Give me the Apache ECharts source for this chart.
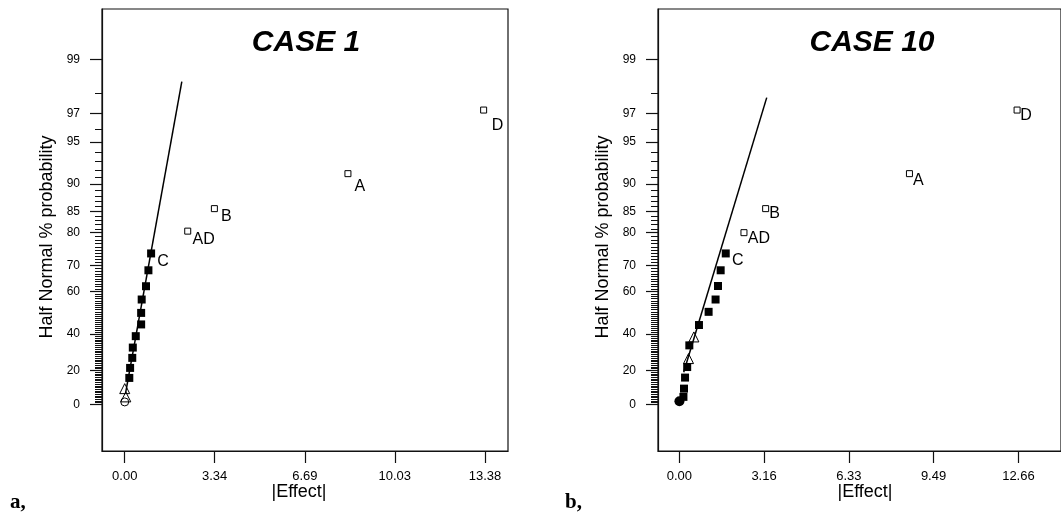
<!DOCTYPE html>
<html>
<head>
<meta charset="utf-8">
<script src="https://cdn.jsdelivr.net/npm/echarts@6.0.0/dist/echarts.min.js"></script>
<style>
  html, body { margin: 0; padding: 0; background: #fff; }
  #chart { width: 1061px; height: 520px; }
</style>
</head>
<body>
<div id="chart"></div>
<script>
// Half-normal probability tick marks (percent)
const probMajorTicks = [0, 20, 40, 60, 70, 80, 85, 90, 95, 97, 99];
const probMinorTicks = Array.from({ length: 99 }, (_, i) => i);

// ---------- CASE 1 ----------
const case1TickLabels = ['0.00', '3.34', '6.69', '10.03', '13.38'];
const case1FilledNames = ['C'];
const case1FilledX = [0.98, 0.88, 0.79, 0.63, 0.61, 0.61, 0.41, 0.30, 0.28, 0.20, 0.17];
const case1FilledP = [74.0, 68.3, 62.2, 56.6, 50.5, 44.9, 38.9, 32.8, 27.1, 21.4, 15.6];
const case1TriangleX = [0.00, 0.04];
const case1TriangleP = [9.3, 4.4];
const case1CircleX = [0.00];
const case1CircleP = [1.4];
const case1NamedLabels = ['D', 'A', 'B', 'AD'];
const case1NamedX = [13.33, 8.29, 3.33, 2.34];
const case1NamedP = [97.2, 91.5, 85.6, 80.4];
const case1LineX = [0.03, 2.12];
const case1LineP = [6.5, 98.4];

// ---------- CASE 10 ----------
const case10TickLabels = ['0.00', '3.16', '6.33', '9.49', '12.66'];
const case10FilledNames = ['C'];
const case10FilledX = [1.73, 1.54, 1.44, 1.35, 1.09, 0.73, 0.37, 0.29, 0.21, 0.17, 0.15];
const case10FilledP = [74.0, 68.3, 62.3, 56.6, 51.0, 44.6, 34.0, 21.9, 15.8, 9.3, 4.4];
const case10TriangleX = [0.54, 0.34];
const case10TriangleP = [38.5, 26.7];
const case10CircleX = [0.00];
const case10CircleP = [1.8];
const case10NamedLabels = ['D', 'A', 'B', 'AD'];
const case10NamedX = [12.61, 8.59, 3.22, 2.41];
const case10NamedP = [97.2, 91.5, 85.6, 80.0];
const case10LineX = [0.16, 3.26];
const case10LineP = [18.9, 97.8];

// Inverse standard normal CDF (Acklam's rational approximation)
function probit(p) {
  const a = [-3.969683028665376e+01, 2.209460984245205e+02, -2.759285104469687e+02, 1.383577518672690e+02, -3.066479806614716e+01, 2.506628277459239e+00];
  const b = [-5.447609879822406e+01, 1.615858368580409e+02, -1.556989798598866e+02, 6.680131188771972e+01, -1.328068155288572e+01];
  const c = [-7.784894002430293e-03, -3.223964580411365e-01, -2.400758276161838e+00, -2.549671010624360e+00, 4.374664141464968e+00, 2.938163982698783e+00];
  const d = [7.784695709041462e-03, 3.224671290700398e-01, 2.445134137142996e+00, 3.754408661907416e+00];
  const pl = 0.02425, ph = 1 - pl;
  let q, r;
  if (p < pl) {
    q = Math.sqrt(-2 * Math.log(p));
    return (((((c[0] * q + c[1]) * q + c[2]) * q + c[3]) * q + c[4]) * q + c[5]) / ((((d[0] * q + d[1]) * q + d[2]) * q + d[3]) * q + 1);
  }
  if (p <= ph) {
    q = p - 0.5; r = q * q;
    return (((((a[0] * r + a[1]) * r + a[2]) * r + a[3]) * r + a[4]) * r + a[5]) * q / (((((b[0] * r + b[1]) * r + b[2]) * r + b[3]) * r + b[4]) * r + 1);
  }
  q = Math.sqrt(-2 * Math.log(1 - p));
  return -(((((c[0] * q + c[1]) * q + c[2]) * q + c[3]) * q + c[4]) * q + c[5]) / ((((d[0] * q + d[1]) * q + d[2]) * q + d[3]) * q + 1);
}
// Half-normal probability scale: percent -> normal score
const hn = pct => probit(0.5 + pct / 200);

const FONT = '"Liberation Sans", Arial, Helvetica, sans-serif';
const INK = '#000';
const majorZ = probMajorTicks.map(hn);
const minorZ = probMinorTicks.map(hn);
const Z_MIN = -0.349, Z_MAX = 2.952;

const pairs = (xs, ps) => xs.map((x, i) => [x, hn(ps[i])]);

function buildPanel(g, opts) {
  const grid = {
    left: opts.left, top: 9, width: opts.width, height: 442,
    show: true, borderColor: '#111', borderWidth: 1.2, backgroundColor: 'transparent'
  };
  const xTicks = opts.tickLabels.map(parseFloat);
  const xAxis = {
    type: 'value', gridIndex: g, min: opts.xMin, max: opts.xMax,
    axisLine: { show: true, onZero: false, lineStyle: { color: '#111', width: 1.2 } },
    axisTick: { show: true, inside: false, length: 12, customValues: xTicks, lineStyle: { color: '#111', width: 1.2 } },
    axisLabel: {
      show: true, margin: 19, customValues: xTicks, color: INK, fontSize: 13, fontFamily: FONT,
      formatter: v => opts.tickLabels[xTicks.findIndex(t => Math.abs(t - v) < 1e-9)]
    },
    splitLine: { show: false }
  };
  const yMajor = {
    type: 'value', gridIndex: g, min: Z_MIN, max: Z_MAX, position: 'left', offset: 0,
    axisLine: { show: true, onZero: false, lineStyle: { color: '#111', width: 1.2 } },
    axisTick: { show: true, inside: false, length: 12, customValues: majorZ, lineStyle: { color: '#111', width: 1.2 } },
    axisLabel: {
      show: true, margin: 22, customValues: majorZ, color: INK, fontSize: 12, fontFamily: FONT,
      formatter: v => String(probMajorTicks[majorZ.findIndex(t => Math.abs(t - v) < 1e-9)])
    },
    splitLine: { show: false }
  };
  const yMinor = {
    type: 'value', gridIndex: g, min: Z_MIN, max: Z_MAX, position: 'left', offset: 0,
    axisLine: { show: false, onZero: false },
    axisTick: { show: true, inside: false, length: 7, customValues: minorZ, lineStyle: { color: '#111', width: 1 } },
    axisLabel: { show: false },
    splitLine: { show: false }
  };

  const labelStyle = off => ({
    show: true, position: 'inside', offset: off, align: 'center', verticalAlign: 'middle',
    color: INK, fontSize: 16, fontFamily: FONT, opacity: 1
  });

  const filledData = pairs(opts.filledX, opts.filledP).map((v, i) => {
    const item = { value: v };
    if (opts.filledNames[i]) {
      item.name = opts.filledNames[i];
      item.label = Object.assign(labelStyle(opts.labelOffsets[item.name]), { formatter: '{b}' });
    }
    return item;
  });
  const namedData = pairs(opts.namedX, opts.namedP).map((v, i) => ({
    value: v, name: opts.namedLabels[i],
    label: Object.assign(labelStyle(opts.labelOffsets[opts.namedLabels[i]]), { formatter: '{b}' })
  }));

  const series = [
    {
      type: 'line', xAxisIndex: g, yAxisIndex: g * 2, data: pairs(opts.lineX, opts.lineP),
      symbol: 'none', lineStyle: { color: INK, width: 1.5, opacity: 1 }, z: 2, silent: true
    },
    {
      type: 'scatter', xAxisIndex: g, yAxisIndex: g * 2, data: filledData,
      symbol: 'rect', symbolSize: 8, itemStyle: { color: INK, opacity: 1 }, z: 3
    },
    {
      type: 'scatter', xAxisIndex: g, yAxisIndex: g * 2, data: pairs(opts.triX, opts.triP),
      symbol: 'triangle', symbolSize: [10, 10],
      itemStyle: { color: 'transparent', borderColor: INK, borderWidth: 1, opacity: 1 }, z: 3
    },
    {
      type: 'scatter', xAxisIndex: g, yAxisIndex: g * 2, data: pairs(opts.circX, opts.circP),
      symbol: 'circle', symbolSize: opts.circleFilled ? 10 : 8,
      itemStyle: opts.circleFilled
        ? { color: INK, opacity: 1 }
        : { color: 'transparent', borderColor: INK, borderWidth: 1, opacity: 1 }, z: 3
    },
    {
      type: 'scatter', xAxisIndex: g, yAxisIndex: g * 2, data: namedData,
      symbol: 'rect', symbolSize: 6,
      itemStyle: { color: '#fff', borderColor: INK, borderWidth: 1, opacity: 1 }, z: 3
    }
  ];
  return { grid, xAxis, yAxes: [yMajor, yMinor], series };
}

const p1 = buildPanel(0, {
  left: 102, width: 406, xMin: -0.844, xMax: 14.235,
  tickLabels: case1TickLabels,
  filledNames: case1FilledNames, filledX: case1FilledX, filledP: case1FilledP,
  triX: case1TriangleX, triP: case1TriangleP,
  circX: case1CircleX, circP: case1CircleP, circleFilled: false,
  namedLabels: case1NamedLabels, namedX: case1NamedX, namedP: case1NamedP,
  lineX: case1LineX, lineP: case1LineP,
  labelOffsets: { D: [14, 16], A: [12, 13], B: [12, 8], AD: [16, 8], C: [12, 8] }
});
const p2 = buildPanel(1, {
  left: 658, width: 427, xMin: -0.80, xMax: 14.25,
  tickLabels: case10TickLabels,
  filledNames: case10FilledNames, filledX: case10FilledX, filledP: case10FilledP,
  triX: case10TriangleX, triP: case10TriangleP,
  circX: case10CircleX, circP: case10CircleP, circleFilled: true,
  namedLabels: case10NamedLabels, namedX: case10NamedX, namedP: case10NamedP,
  lineX: case10LineX, lineP: case10LineP,
  labelOffsets: { D: [9, 6], A: [9, 7], B: [9, 5], AD: [15, 6], C: [12, 7] }
});

const textEl = (x, y, text, font, align) => ({
  type: 'text', x, y, silent: true,
  style: Object.assign({ text, fill: INK, align: align || 'center', verticalAlign: 'middle' }, font)
});

const titleFont = { fontSize: 30, fontWeight: 'bold', fontStyle: 'italic', fontFamily: FONT };
const axisNameFont = { fontSize: 18, fontFamily: FONT };
const panelTagFont = { fontSize: 21, fontWeight: 'bold', fontFamily: '"Liberation Serif", "Times New Roman", serif' };

const yTitle = (x, y) => Object.assign(textEl(x, y, 'Half Normal % probability', axisNameFont), { rotation: Math.PI / 2 });

const chart = echarts.init(document.getElementById('chart'), null, { renderer: 'canvas' });
chart.setOption({
  animation: false,
  backgroundColor: '#fff',
  grid: [p1.grid, p2.grid],
  xAxis: [p1.xAxis, p2.xAxis],
  yAxis: [...p1.yAxes, ...p2.yAxes],
  series: [...p1.series, ...p2.series],
  graphic: [
    textEl(306, 43, 'CASE 1', titleFont),
    textEl(872, 43, 'CASE 10', titleFont),
    yTitle(47, 237),
    yTitle(603, 237),
    textEl(299, 492, '|Effect|', axisNameFont),
    textEl(865, 492, '|Effect|', axisNameFont),
    textEl(10, 503, 'a,', panelTagFont, 'left'),
    textEl(565, 503, 'b,', panelTagFont, 'left')
  ]
});
</script>
</body>
</html>
